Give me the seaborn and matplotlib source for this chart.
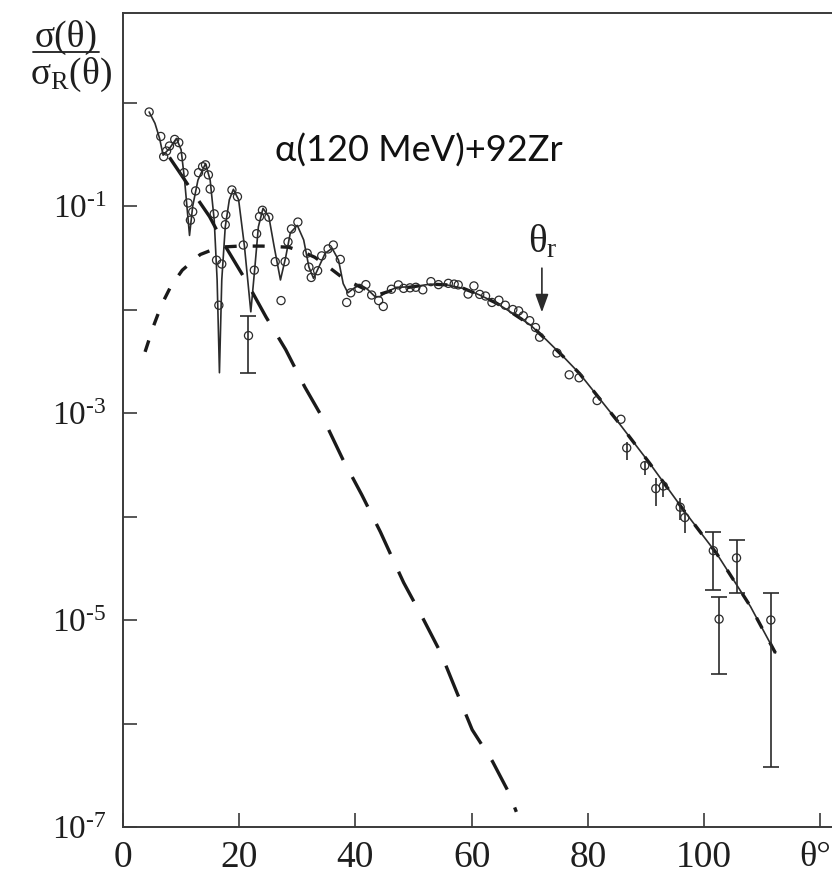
import numpy as np
import pandas as pd
import matplotlib
matplotlib.use("Agg")
import matplotlib.pyplot as plt
import seaborn as sns

# ---------------- data ----------------
# experimental points
exp_theta = [4.5, 6.5, 7.0, 7.5, 8.0, 8.9, 9.6, 10.1, 10.5, 11.2, 11.6, 12.0, 12.5, 13.0,
             13.7, 14.2, 14.7, 15.0, 15.7, 16.1, 16.5, 17.0, 17.6, 17.7, 18.75, 19.7, 20.7,
             22.6, 23.0, 23.5, 24.0, 25.1, 26.2, 27.2, 27.9, 28.4, 29.0, 30.1, 31.7, 32.0,
             32.4, 33.5, 34.2, 35.3, 36.2, 37.4, 38.5, 39.2, 40.6, 41.8, 42.8, 44.0, 44.8,
             46.2, 47.4, 48.3, 49.4, 50.4, 51.6, 53.0, 54.3, 56.0, 57.0, 57.7, 59.4, 60.4,
             61.4, 62.4, 63.5, 64.7, 65.8, 67.1, 68.1, 68.9, 70.0, 71.0, 71.7, 74.7, 76.8,
             78.5, 81.6, 85.7]
exp_ratio = [0.81, 0.47, 0.30, 0.34, 0.38, 0.44, 0.41, 0.30, 0.21, 0.107, 0.073, 0.088, 0.14,
             0.21, 0.24, 0.25, 0.20, 0.146, 0.084, 0.030, 0.011, 0.0275, 0.066, 0.082, 0.143,
             0.123, 0.042, 0.024, 0.054, 0.079, 0.091, 0.078, 0.029, 0.0122, 0.029, 0.045,
             0.060, 0.070, 0.035, 0.0257, 0.0204, 0.0237, 0.033, 0.0385, 0.042, 0.0305,
             0.0117, 0.0145, 0.016, 0.0174, 0.0138, 0.0122, 0.0107, 0.0157, 0.0173, 0.016,
             0.0162, 0.0164, 0.0155, 0.0186, 0.0174, 0.0179, 0.0176, 0.0173, 0.0141, 0.0169,
             0.014, 0.0135, 0.0117, 0.0123, 0.011, 0.0100, 0.0097, 0.0087, 0.0078, 0.0067,
             0.0054, 0.0038, 0.00234, 0.00219, 0.00132, 0.00087]

# points with error bars (with caps)
capped_theta = [21.6, 101.6, 102.6, 105.6, 111.5]
capped_ratio = [0.0056, 4.68e-5, 1.02e-5, 3.98e-5, 1.0e-5]
capped_low = [0.00245, 1.95e-5, 3.0e-6, 1.82e-5, 3.8e-7]
capped_high = [0.0087, 7.08e-5, 1.68e-5, 5.89e-5, 1.82e-5]

# points with error bars (no caps)
bar_theta = [86.7, 89.8, 91.7, 93.0, 95.9, 96.7]
bar_ratio = [4.6e-4, 3.1e-4, 1.86e-4, 1.97e-4, 1.23e-4, 9.77e-5]
bar_low = [3.55e-4, 2.5e-4, 1.26e-4, 1.55e-4, 9.33e-5, 6.92e-5]
bar_high = [5.2e-4, 3.4e-4, 2.34e-4, 2.19e-4, 1.51e-4, 1.15e-4]

# total calculated cross section (solid)
calc_theta = [4.5, 5.5, 6.3, 6.9, 8.0, 9.2, 10.0, 10.6, 11.45, 12.0, 12.9, 14.2, 15.0, 15.7,
              16.2, 16.6, 17.0, 17.6, 18.3, 19.0, 19.9, 20.9, 22.0, 22.7, 23.3, 24.1, 25.1,
              26.0, 27.1, 28.0, 28.8, 30.0, 31.1, 32.0, 32.8, 33.7, 34.8, 36.0, 37.1, 37.9,
              38.7, 39.7, 40.8, 41.9, 43.4, 44.2, 45.4, 47.1, 49.9, 52.9, 55.7, 58.6, 61.4,
              64.3, 67.2, 70.1, 72.9, 75.8, 78.6, 85.0, 90.7, 96.5, 102.2, 108.0, 112.3]
calc_ratio = [0.81, 0.63, 0.45, 0.31, 0.36, 0.45, 0.35, 0.178, 0.052, 0.10, 0.178, 0.257,
              0.178, 0.073, 0.0193, 0.00245, 0.0193, 0.063, 0.115, 0.145, 0.115, 0.041,
              0.0095, 0.0257, 0.063, 0.095, 0.079, 0.041, 0.0193, 0.032, 0.055, 0.065, 0.047,
              0.0257, 0.020, 0.0257, 0.035, 0.039, 0.030, 0.0178, 0.0145, 0.016, 0.0174,
              0.016, 0.0133, 0.0133, 0.0148, 0.0164, 0.0166, 0.0176, 0.0173, 0.016, 0.0138,
              0.0115, 0.0091, 0.0071, 0.00507, 0.0035, 0.0024, 0.00085, 0.000324, 0.000115,
              4.37e-5, 1.35e-5, 4.8e-6]

# near-side component (long dashes)
near_theta = [8.0, 10.3, 12.3, 14.9, 17.6, 21.1, 24.6, 28.0, 31.3, 34.8, 37.8, 41.1, 44.3,
              46.8, 48.3, 51.5, 54.7, 57.3, 60.1, 63.6, 66.5, 67.7]
near_ratio = [0.295, 0.19, 0.129, 0.079, 0.041, 0.0193, 0.0085, 0.0041, 0.00178, 0.00081,
              0.00036, 1.62e-4, 7.1e-5, 3.5e-5, 2.3e-5, 1.07e-5, 4.8e-6, 2.1e-6, 8.7e-7,
              4.3e-7, 2.1e-7, 1.4e-7]

# far-side component (short dashes)
far_theta = [3.8, 5.2, 6.6, 8.2, 10.2, 13.3, 16.5, 20.0, 24.0, 28.5, 31.0, 33.0, 35.4, 38.2,
             41.9, 44.3, 47.1, 49.9, 52.9, 55.7, 58.6, 61.4, 64.3, 67.2, 70.1, 72.9, 75.8,
             78.6, 85.0, 90.7, 96.5, 102.2, 108.0, 112.3]
far_ratio = [0.0039, 0.0068, 0.011, 0.0166, 0.024, 0.034, 0.040, 0.041, 0.041, 0.040, 0.036,
             0.032, 0.0257, 0.0195, 0.0155, 0.0141, 0.0158, 0.0166, 0.0176, 0.0173, 0.016,
             0.0138, 0.0115, 0.0091, 0.0071, 0.00507, 0.0035, 0.0024, 0.00085, 0.000324,
             0.000115, 4.37e-5, 1.35e-5, 4.8e-6]

x_ticks = [0, 20, 40, 60, 80, 100, 120]
x_tick_labels = ["0", "20", "40", "60", "80", "100", ""]
x_axis_unit = "θ°"
y_ticks = [1e0, 1e-1, 1e-2, 1e-3, 1e-4, 1e-5, 1e-6, 1e-7]
y_tick_labels = ["", "10$^{\\text{-}1}$", "", "10$^{\\text{-}3}$", "",
                 "10$^{\\text{-}5}$", "", "10$^{\\text{-}7}$"]
theta_r = 72.1
title_text = "α(120 MeV)+92Zr"

# ---------------- style ----------------
sns.set_theme(style="ticks")
plt.rcParams["font.family"] = ["Liberation Serif", "DejaVu Serif"]
plt.rcParams["mathtext.fontset"] = "custom"
plt.rcParams["mathtext.rm"] = "Liberation Serif"
plt.rcParams["mathtext.it"] = "Liberation Serif:italic"
plt.rcParams["mathtext.default"] = "regular"

ink = "#2b2b2b"
W, H = 832, 877
fig = plt.figure(figsize=(W / 100, H / 100), dpi=100)
ax_left, ax_right, ax_top, ax_bottom = 123, 832, 13, 827
ax = fig.add_axes([ax_left / W, 1 - ax_bottom / H, (ax_right - ax_left) / W,
                   (ax_bottom - ax_top) / H])

ax.set_yscale("log")
ax.set_xlim(0, (ax_right - ax_left) / 5.81)
ax.set_ylim(1e-7, 10 ** 0.865)

# curves
df_calc = pd.DataFrame({"theta": calc_theta, "ratio": calc_ratio})
df_near = pd.DataFrame({"theta": near_theta, "ratio": near_ratio})
df_far = pd.DataFrame({"theta": far_theta, "ratio": far_ratio})

sns.lineplot(data=df_calc, x="theta", y="ratio", ax=ax, color=ink, lw=1.2,
             sort=False, estimator=None)
sns.lineplot(data=df_near, x="theta", y="ratio", ax=ax, color="#1a1a1a", lw=2.4,
             sort=False, estimator=None)
ax.lines[-1].set_dashes((10.0, 5.8))
sns.lineplot(data=df_far, x="theta", y="ratio", ax=ax, color="#1a1a1a", lw=2.4,
             sort=False, estimator=None)
ax.lines[-1].set_dashes((3.6, 4.8))
for ln in ax.lines[-2:]:
    ln.set_solid_capstyle("butt")
    ln.set_dash_capstyle("butt")

# error bars
ax.errorbar(capped_theta, capped_ratio,
            yerr=[np.subtract(capped_ratio, capped_low), np.subtract(capped_high, capped_ratio)],
            fmt="none", ecolor=ink, elinewidth=1.2, capsize=6, capthick=1.2, zorder=3)
ax.errorbar(bar_theta, bar_ratio,
            yerr=[np.subtract(bar_ratio, bar_low), np.subtract(bar_high, bar_ratio)],
            fmt="none", ecolor=ink, elinewidth=1.2, capsize=0, zorder=3)

# points
all_theta = exp_theta + capped_theta + bar_theta
all_ratio = exp_ratio + capped_ratio + bar_ratio
df_pts = pd.DataFrame({"theta": all_theta, "ratio": all_ratio})
sns.scatterplot(data=df_pts, x="theta", y="ratio", ax=ax, marker="o", s=34,
                facecolor="none", edgecolor=ink, linewidth=0.9, zorder=4)

# axes styling
for side in ["left", "bottom", "top"]:
    ax.spines[side].set_color("#3a3a3a")
    ax.spines[side].set_linewidth(1.4)
ax.spines["right"].set_visible(False)
ax.set_xticks(x_ticks)
ax.set_xticklabels(x_tick_labels, fontsize=27, color="#1e1e1e")
ax.set_yticks(y_ticks)
ax.set_yticklabels(y_tick_labels, fontsize=24, color="#1e1e1e")
ax.yaxis.set_minor_locator(matplotlib.ticker.NullLocator())
ax.tick_params(axis="both", direction="in", length=10, width=1.2, color="#3a3a3a")
ax.tick_params(axis="x", pad=10)
ax.tick_params(axis="y", pad=12)
ax.set_xlabel("")
ax.set_ylabel("")

# x-axis unit label at the last tick
ax.annotate(x_axis_unit, xy=(1, 0), xycoords="axes fraction", xytext=(-1, -10),
            textcoords="offset points", ha="right", va="top", fontsize=26, color="#1e1e1e")

# y label as fraction
fig.text(66 / W, 1 - 37 / H, "σ(θ)", fontsize=27, ha="center", va="center", color="#1e1e1e")
fig.add_artist(matplotlib.lines.Line2D([33 / W, 99 / W], [1 - 52 / H, 1 - 52 / H],
                                       color="#1e1e1e", lw=1.3))
fig.text(71 / W, 1 - 75 / H, "σ$_{\\mathrm{R}}$(θ)", fontsize=27, ha="center", va="center",
         color="#1e1e1e")

# reaction label
ax.text(26.2, 0.266, title_text, fontsize=26, family=["Lato", "DejaVu Sans"],
        ha="left", va="baseline", color="#111111")

# theta_r marker
ax.text(69.7, 0.036, "θ$_{\\mathrm{r}}$", fontsize=28, ha="left", va="baseline",
        color="#1e1e1e")
ax.annotate("", xy=(theta_r, 0.0094), xytext=(theta_r, 0.0251),
            arrowprops=dict(arrowstyle="-|>,head_width=0.2,head_length=0.55",
                            mutation_scale=20, lw=1.2, color=ink, shrinkA=0, shrinkB=0))

fig.savefig("out.png", dpi=100, facecolor="white")
